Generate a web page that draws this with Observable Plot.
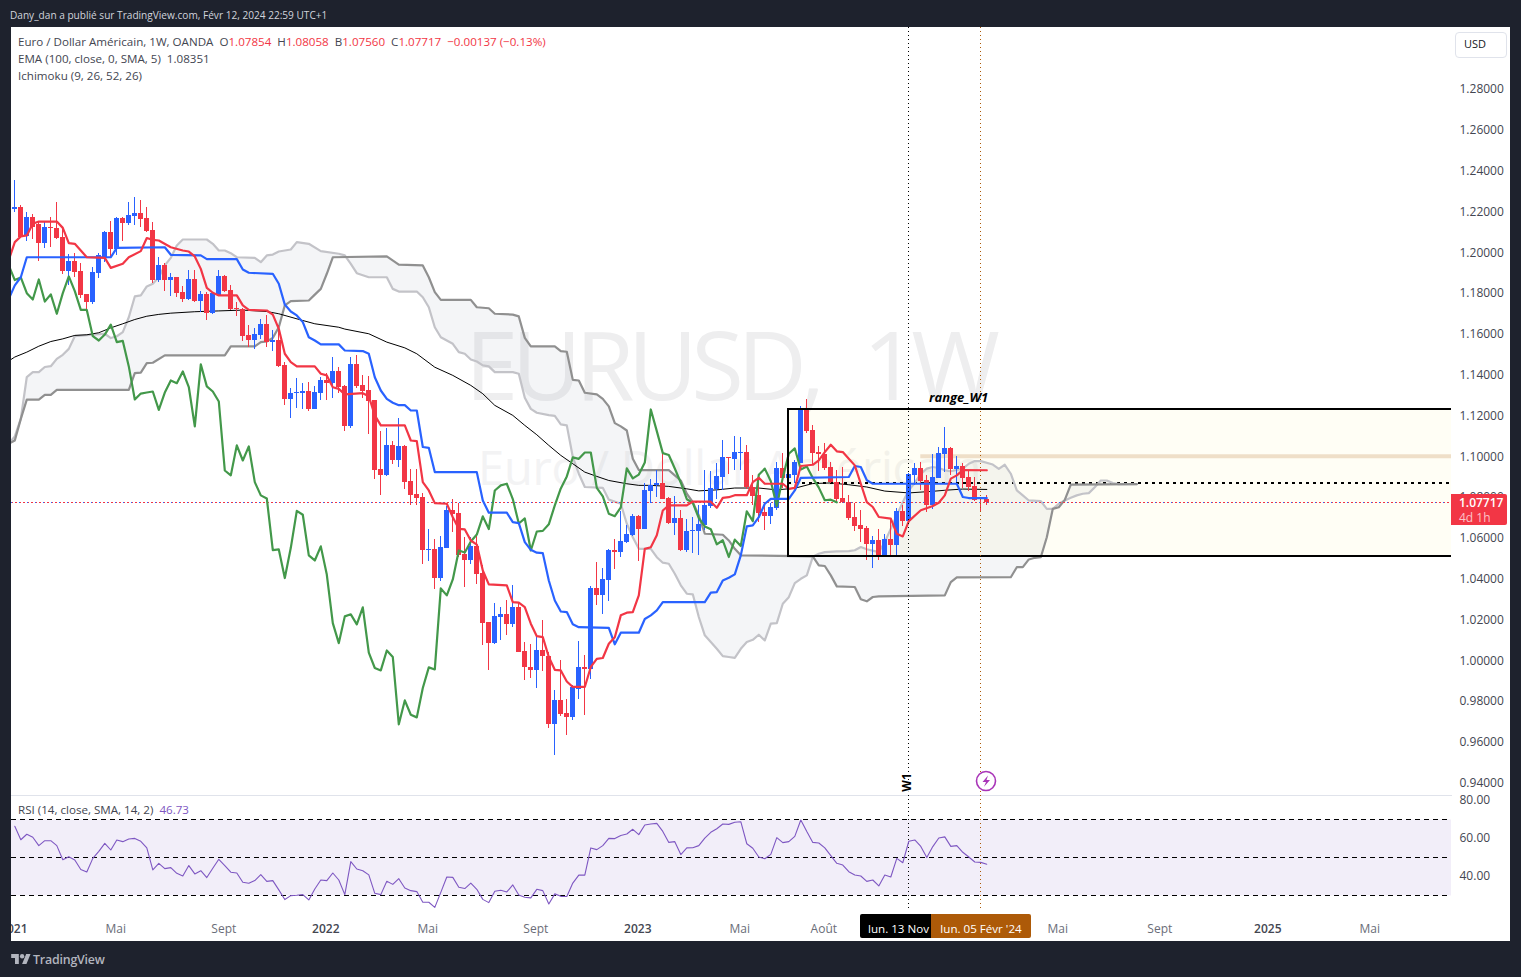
<!DOCTYPE html>
<html lang="fr"><head><meta charset="utf-8">
<script src="https://cdn.jsdelivr.net/npm/d3@7"></script>
<script src="https://cdn.jsdelivr.net/npm/@observablehq/plot@0.6"></script>
<style>
html,body{margin:0;padding:0;background:#1e222d;width:1521px;height:977px;overflow:hidden;font-family:"Open Sans",sans-serif;}
#panel{position:absolute;left:11px;top:27px;width:1499px;height:914px;background:#fff;}
.abs{position:absolute;white-space:nowrap;}
.lg{font-size:11.6px;color:#434651;line-height:17px;}
.lg b{font-weight:400;color:#f23645;}
svg.pl{position:absolute;background:transparent;overflow:hidden;}
</style></head><body>
<div class="abs" style="left:10px;top:8px;font-size:10.1px;color:#d1d4dc;">Dany_dan a publié sur TradingView.com, Févr 12, 2024 22:59 UTC+1</div>
<div id="panel"></div>
<div class="abs" style="left:465px;top:298px;font-size:96px;color:#eeeeef;letter-spacing:-6.6px;word-spacing:26px;font-family:'Open Sans';line-height:130px;">EURUSD, 1W</div>
<div class="abs" style="left:478px;top:435px;font-size:47px;color:#f3f3f4;font-family:'Open Sans';line-height:64px;letter-spacing:-.2px;">Euro / Dollar Américain</div>
<div id="charts"></div>
<div class="abs lg" style="left:18px;top:33px;">Euro / Dollar Américain, 1W, OANDA&nbsp; O<b>1.07854</b>&nbsp; H<b>1.08058</b>&nbsp; B<b>1.07560</b>&nbsp; C<b>1.07717</b>&nbsp; <b>−0.00137 (−0.13%)</b></div>
<div class="abs lg" style="left:18px;top:50px;">EMA (100, close, 0, SMA, 5)&nbsp; 1.08351</div>
<div class="abs lg" style="left:18px;top:67px;">Ichimoku (9, 26, 52, 26)</div>
<div class="abs lg" style="left:18px;top:801px;">RSI (14, close, SMA, 14, 2)&nbsp; <span style="color:#7e57c2">46.73</span></div>
<div class="abs" style="left:1455px;top:32px;width:50px;height:24px;border:1px solid #e0e3eb;border-radius:4px;font-size:11px;line-height:22px;color:#131722;text-indent:8px;">USD</div>
<div class="abs" style="left:1451px;top:494px;width:56px;height:31px;background:#f23645;border-radius:0 2px 2px 0;color:#fff;font-size:12px;line-height:15px;text-indent:8px;padding-top:1px;box-sizing:border-box;"><div style="font-weight:600">1.07717</div><div style="color:#fbc3c8">4d 1h</div></div>
<div class="abs" style="left:860px;top:914px;width:71px;height:24px;background:#000;border-radius:2px 0 0 2px;color:#fff;font-size:11.6px;line-height:29px;text-indent:8px;">lun. 13 Nov</div>
<div class="abs" style="left:931px;top:914px;width:100px;height:24px;background:#ad5a08;border-radius:0 2px 2px 0;color:#fff;font-size:11.6px;line-height:29px;text-align:center;">lun. 05 Févr '24</div>
<svg class="abs" style="left:975px;top:770px;" width="22" height="22" viewBox="0 0 22 22"><circle cx="11" cy="11" r="9.5" fill="#fff" stroke="#a935b8" stroke-width="1.6"/><path d="M13 5.5 7.5 12H11l-2 4.8L15 10h-3.5z" fill="#a935b8"/></svg>
<svg class="abs" style="left:11px;top:953px;" width="20" height="12" viewBox="0 0 36 22"><path d="M14 20H7V9H0V2h14zM28 20h-8L27.5 2h8z" fill="#b2b5be"/><circle cx="20" cy="6" r="4" fill="#b2b5be"/></svg>
<div class="abs" style="left:33px;top:951px;font-size:12.4px;color:#b2b5be;font-weight:600;letter-spacing:-.2px;">TradingView</div>
<script>
// Weekly candles, week 0 = 4 Jan 2021, week 162 = 12 Feb 2024
const open=[1.2205,1.2217,1.2075,1.2168,1.2133,1.2042,1.2119,1.2114,1.2070,1.1903,1.1952,1.1903,1.1791,1.1751,1.1895,1.1970,1.2094,1.2013,1.2163,1.2140,1.2174,1.2187,1.2163,1.2102,1.1859,1.1933,1.1861,1.1874,1.1800,1.1766,1.1864,1.1758,1.1791,1.1696,1.1784,1.1879,1.1810,1.1722,1.1715,1.1588,
1.1565,1.1591,1.1643,1.1557,1.1565,1.1443,1.1276,1.1307,1.1305,1.1315,1.1227,1.1307,1.1368,1.1354,1.1413,1.1338,1.1144,1.1448,1.1345,1.1319,1.1271,1.0933,1.0904,1.1051,1.0977,1.1046,1.0874,1.0811,
1.0794,1.0538,1.0539,1.0401,1.0547,1.0730,1.0716,1.0515,1.0487,1.0556,1.0422,1.0182,1.0079,1.0208,1.0223,1.0174,1.0257,1.0041,.9963,.9948,1.0046,1.0017,.9684,.9801,.9736,.9718,.9855,.9963,.9953,1.0350,1.0316,1.0389,1.0536,1.0526,1.0574,1.0610,1.0703,1.0641,
1.0825,1.0853,1.0863,1.0791,1.0668,1.0693,1.0536,1.0631,1.0631,1.0657,1.0753,1.0833,1.0894,1.0992,1.0982,1.1013,1.1016,1.0843,1.0806,1.0722,1.0704,1.0742,1.0938,1.0889,1.0904,1.0961,1.1227,
1.1123,1.1017,1.1005,1.0942,1.0871,1.0790,1.0770,1.0697,1.0659,1.0644,1.0566,1.0586,1.0504,1.0591,1.0558,1.0728,1.0680,1.0904,1.0938,1.0880,1.0754,1.0891,1.1007,1.1036,1.0933,1.0948,1.0894,1.0849,1.0790,1.07854];
const high=[1.2349,1.2227,1.2194,1.2182,1.2145,1.2145,1.2169,1.2241,1.2120,1.1986,1.1990,1.1941,1.1791,1.1921,1.1990,1.2099,1.2148,1.2168,1.2169,1.2240,1.2264,1.2251,1.2218,1.2143,1.1970,1.1941,1.1892,1.1875,1.1830,1.1908,1.1908,1.1807,1.1802,1.1797,1.1908,1.1885,1.1835,1.1753,1.1720,1.1639,
1.1622,1.1666,1.1688,1.1614,1.1639,1.1459,1.1328,1.1377,1.1353,1.1358,1.1340,1.1384,1.1402,1.1482,1.1433,1.1345,1.1482,1.1492,1.1394,1.1389,1.1271,1.1119,1.1132,1.1070,1.1181,1.1051,1.0933,1.0933,
1.0814,1.0637,1.0588,1.0605,1.0752,1.0784,1.0768,1.0598,1.0601,1.0618,1.0463,1.0185,1.0275,1.0258,1.0291,1.0365,1.0283,1.0084,1.0076,1.0111,1.0193,1.0038,.9850,.9997,.9806,.9875,1.0090,1.0022,1.0360,1.0476,1.0446,1.0541,1.0588,1.0729,1.0659,1.0711,1.0707,1.0863,
1.0884,1.0928,1.1031,1.0797,1.0801,1.0732,1.0686,1.0699,1.0757,1.0928,1.0925,1.0961,1.1075,1.0993,1.1095,1.1090,1.1051,1.0904,1.0892,1.0773,1.0765,1.0967,1.1010,1.0972,1.0977,1.1242,1.1275,
1.1149,1.1046,1.1059,1.0969,1.0929,1.0945,1.0806,1.0765,1.0733,1.0651,1.0602,1.0638,1.0613,1.0692,1.0741,1.0757,1.0912,1.0961,1.0969,1.0904,1.1005,1.1043,1.1138,1.1043,1.0997,1.0961,1.0929,1.0896,1.0793,1.08058];
const low=[1.2194,1.2063,1.2052,1.2058,1.1954,1.2016,1.2022,1.2062,1.1889,1.1835,1.1875,1.1769,1.1704,1.1740,1.1871,1.1949,1.1970,1.1982,1.2050,1.2129,1.2129,1.2117,1.2093,1.1846,1.1851,1.1807,1.1781,1.1774,1.1751,1.1761,1.1753,1.1704,1.1663,1.1693,1.1782,1.1802,1.1712,1.1683,1.1562,1.1529,
1.1521,1.1570,1.1532,1.1513,1.1431,1.1247,1.1183,1.1230,1.1227,1.1217,1.1227,1.1271,1.1271,1.1283,1.1304,1.1119,1.1136,1.1328,1.1279,1.1105,1.0884,1.0806,1.0900,1.0958,1.0945,1.0835,1.0757,1.0757,
1.0467,1.0482,1.0345,1.0384,1.0544,1.0626,1.0500,1.0356,1.0467,1.0369,1.0071,.9948,1.0076,1.0095,1.0120,1.0160,1.0035,.9899,.9907,.9860,.9943,.9662,.9532,.9723,.9630,.9703,.9806,.9728,.9904,1.0267,1.0223,1.0288,1.0443,1.0503,1.0569,1.0606,1.0484,1.0637,
1.0765,1.0797,1.0788,1.0664,1.0610,1.0533,1.0528,1.0523,1.0512,1.0634,1.0744,1.0784,1.0830,1.0908,1.0928,1.0928,1.0833,1.0758,1.0675,1.0634,1.0664,1.0732,1.0838,1.0838,1.0863,1.0961,1.1108,
1.0956,1.0924,1.0929,1.0863,1.0765,1.0765,1.0684,1.0630,1.0577,1.0488,1.0450,1.0488,1.0504,1.0507,1.0509,1.0654,1.0679,1.0852,1.0831,1.0724,1.0738,1.0888,1.0920,1.0904,1.0868,1.0839,1.0826,1.0777,1.0721,1.07560];
const close=[1.2215,1.2071,1.2168,1.2117,1.2042,1.2119,1.2116,1.2066,1.1905,1.1952,1.1900,1.1786,1.1751,1.1898,1.1980,1.2094,1.2011,1.2163,1.2140,1.2178,1.2187,1.2158,1.2101,1.1859,1.1933,1.1861,1.1874,1.1797,1.1766,1.1864,1.1756,1.1791,1.1696,1.1797,1.1879,1.1807,1.1715,1.1715,1.1586,1.1565,
1.1594,1.1643,1.1557,1.1563,1.1438,1.1276,1.1305,1.1310,1.1315,1.1225,1.1310,1.1369,1.1356,1.1413,1.1337,1.1144,1.1448,1.1340,1.1315,1.1266,1.0928,1.0904,1.1051,1.0977,1.1046,1.0871,1.0806,1.0791,
1.0538,1.0541,1.0401,1.0549,1.0730,1.0711,1.0512,1.0487,1.0556,1.0418,1.0180,1.0082,1.0213,1.0223,1.0174,1.0257,1.0035,.9960,.9948,1.0046,1.0014,.9684,.9801,.9731,.9718,.9862,.9963,.9953,1.0350,1.0316,1.0394,1.0536,1.0526,1.0580,1.0614,1.0703,1.0641,1.0830,
1.0855,1.0863,1.0788,1.0668,1.0693,1.0536,1.0629,1.0632,1.0664,1.0757,1.0840,1.0899,1.0992,1.0985,1.1016,1.1016,1.0843,1.0801,1.0716,1.0704,1.0747,1.0938,1.0889,1.0908,1.0967,1.1227,1.1121,
1.1013,1.1004,1.0938,1.0868,1.0787,1.0769,1.0695,1.0654,1.0640,1.0566,1.0586,1.0504,1.0589,1.0558,1.0728,1.0680,1.0907,1.0937,1.0875,1.0754,1.0893,1.1010,1.1036,1.0933,1.0948,1.0891,1.0844,1.0782,1.0785,1.07717];

const kijun=[[-1,1.1770],[0,1.1835],[1,1.1875],[2,1.1973],[16,1.1973],[17,1.2019],[25,1.2022],[26,1.1985],[31,1.1982],[32,1.1964],[37,1.1964],[38,1.1913],[39,1.1897],[43,1.1892],[44,1.1843],[45,1.1741],[46,1.1707],[47,1.1688],[48,1.1655],[49,1.1581],[50,1.1565],[51,1.1546],[54,1.1546],[55,1.1516],[58,1.1513],[59,1.1500],[60,1.1385],[61,1.1320],[62,1.1279],[63,1.1260],[64,1.1248],[65,1.1248],[66,1.1222],[67,1.1222],[68,1.1043],[69,1.1039],[70,1.0920],[77,1.0920],[78,1.0781],[79,1.0721],[82,1.0721],[83,1.0675],[84,1.0670],[85,1.0577],[86,1.0539],[87,1.0525],[88,1.0523],[89,1.0389],[90,1.0291],[91,1.0237],[92,1.0234],[93,1.0174],[94,1.0160],[99,1.0157],[100,1.0076],[101,1.0133],[104,1.0133],[105,1.0200],[106,1.0218],[107,1.0242],[108,1.0283],[115,1.0283],[116,1.0329],[117,1.0332],[118,1.0389],[119,1.0402],[120,1.0419],[121,1.0512],[122,1.0654],[123,1.0659],[124,1.0699],[125,1.0765],[126,1.0789],[129,1.0789],[130,1.0830],[131,1.0892],[139,1.0896],[140,1.0950],[141,1.0945],[142,1.0880],[143,1.0863],[157,1.0863],[158,1.0798],[159,1.0793],[162,1.0793]];
const tenkan=[[-1,1.1960],[0,1.2047],[1,1.2075],[2,1.2080],[3,1.2137],[4,1.2148],[7,1.2148],[8,1.2117],[9,1.2042],[10,1.2039],[11,1.2006],[12,1.1973],[15,1.1970],[16,1.1921],[18,1.1941],[19,1.1973],[21,1.2003],[22,1.2067],[23,1.2058],[24,1.2055],[26,1.2022],[28,1.2006],[29,1.2001],[30,1.1977],[31,1.1916],[32,1.1823],[33,1.1799],[34,1.1786],[37,1.1786],[38,1.1737],[39,1.1715],[42,1.1712],[43,1.1692],[44,1.1622],[45,1.1500],[46,1.1459],[47,1.1438],[50,1.1438],[51,1.1402],[52,1.1394],[53,1.1336],[54,1.1328],[55,1.1301],[58,1.1307],[59,1.1292],[60,1.1198],[61,1.1149],[65,1.1149],[66,1.1075],[67,1.1072],[68,1.0871],[69,1.0830],[70,1.0768],[72,1.0765],[73,1.0699],[74,1.0642],[75,1.0639],[76,1.0585],[77,1.0565],[78,1.0438],[79,1.0370],[82,1.0365],[83,1.0283],[84,1.0280],[85,1.0258],[86,1.0177],[87,1.0116],[88,1.0111],[89,1.0014],[90,.9951],[91,.9948],[92,.9894],[93,.9867],[95,.9867],[96,.9965],[97,1.0005],[98,1.0009],[99,1.0079],[100,1.0111],[101,1.0218],[102,1.0231],[103,1.0234],[104,1.0316],[105,1.0544],[106,1.0552],[107,1.0610],[108,1.0732],[109,1.0757],[112,1.0757],[113,1.0776],[116,1.0775],[117,1.0745],[118,1.0794],[119,1.0797],[120,1.0807],[122,1.0807],[123,1.0871],[124,1.0892],[125,1.0863],[128,1.0863],[129,1.0838],[130,1.0843],[131,1.0950],[133,1.0956],[134,1.0978],[135,1.1018],[136,1.1054],[137,1.1022],[138,1.1018],[139,1.0986],[140,1.0953],[141,1.0863],[142,1.0773],[143,1.0749],[144,1.0700],[146,1.0692],[147,1.0618],[148,1.0605],[149,1.0680],[151,1.0733],[153,1.0754],[154,1.0770],[155,1.0806],[156,1.0888],[157,1.0904],[158,1.0930],[162,1.0929]];
const spanLight=[[-1,1.1060],[0,1.1095],[1,1.1181],[2,1.1386],[3,1.1410],[4,1.1410],[5,1.1435],[6,1.1439],[7,1.1475],[8,1.1495],[9,1.1524],[10,1.1586],[15,1.1598],[16,1.1577],[17,1.1586],[18,1.1606],[19,1.1679],[20,1.1781],[21,1.1786],[22,1.1830],[23,1.1843],[24,1.1875],[25,1.1933],[26,1.1970],[27,1.2031],[28,1.2060],[32,1.2060],[33,1.2039],[34,1.2006],[35,1.2006],[36,1.1993],[37,1.1973],[40,1.1970],[41,1.1949],[42,1.1982],[43,1.1986],[44,1.2001],[46,1.2011],[47,1.2047],[49,1.2039],[51,1.2003],[54,1.1990],[55,1.1982],[56,1.1941],[57,1.1895],[59,1.1875],[62,1.1875],[63,1.1818],[64,1.1805],[67,1.1805],[68,1.1777],[69,1.1728],[70,1.1630],[71,1.1581],[73,1.1549],[74,1.1508],[75,1.1500],[76,1.1472],[77,1.1462],[78,1.1443],[79,1.1438],[80,1.1410],[83,1.1410],[84,1.1402],[85,1.1284],[86,1.1230],[87,1.1211],[89,1.1199],[90,1.1196],[91,1.1154],[92,1.1149],[93,1.0994],[94,1.0912],[95,1.0847],[98,1.0843],[99,1.0785],[101,1.0765],[102,1.0667],[103,1.0601],[104,1.0544],[106,1.0544],[107,1.0503],[108,1.0476],[109,1.0471],[110,1.0422],[111,1.0365],[112,1.0324],[113,1.0321],[114,1.0210],[115,1.0120],[116,1.0087],[117,1.0054],[118,1.0018],[119,1.0014],[120,1.0010],[121,1.0054],[122,1.0087],[123,1.0098],[124,1.0123],[125,1.0095],[126,1.0177],[127,1.0180],[128,1.0275],[129,1.0307],[130,1.0376],[131,1.0397],[132,1.0414],[133,1.0505],[134,1.0520],[135,1.0528],[137,1.0532],[139,1.0533],[140,1.0537],[141,1.0553],[142,1.0542],[144,1.0528],[145,1.0577],[146,1.0643],[147,1.0708],[148,1.0773],[149,1.0831],[150,1.0868],[151,1.0912],[152,1.0937],[153,1.0945],[154,1.0940],[155,1.0929],[156,1.0924],[158,1.0937],[159,1.0961],[160,1.0974],[161,1.0974],[163,1.0957],[164,1.0936],[165,1.0956],[166,1.0912],[167,1.0830],[168,1.0806],[169,1.0781],[171,1.0778],[172,1.0740],[173,1.0740],[174,1.0765],[175,1.0781],[176,1.0794],[177,1.0806],[178,1.0814],[179,1.0817],[180,1.0846],[181,1.0879],[182,1.0879],[183,1.0866],[184,1.0861],[187,1.0861]];
const spanDark=[[-1,1.1060],[0,1.1075],[1,1.1181],[2,1.1275],[4,1.1275],[5,1.1299],[6,1.1299],[7,1.1323],[19,1.1323],[20,1.1405],[21,1.1408],[22,1.1454],[23,1.1456],[25,1.1492],[35,1.1492],[36,1.1536],[40,1.1536],[41,1.1557],[42,1.1560],[43,1.1578],[44,1.1630],[45,1.1737],[46,1.1758],[49,1.1761],[50,1.1790],[51,1.1818],[52,1.1892],[53,1.1973],[62,1.1977],[64,1.1937],[68,1.1933],[69,1.1875],[70,1.1802],[71,1.1764],[76,1.1764],[77,1.1728],[79,1.1723],[80,1.1696],[83,1.1692],[84,1.1683],[85,1.1578],[86,1.1536],[90,1.1536],[91,1.1513],[92,1.1510],[93,1.1372],[94,1.1369],[95,1.1309],[97,1.1301],[98,1.1279],[99,1.1242],[100,1.1160],[101,1.1144],[102,1.1124],[103,1.0985],[104,1.0930],[109,1.0930],[110,1.0904],[111,1.0879],[112,1.0814],[113,1.0773],[114,1.0708],[115,1.0618],[118,1.0613],[119,1.0585],[120,1.0544],[121,1.0512],[133,1.0507],[134,1.0463],[135,1.0460],[136,1.0414],[137,1.0360],[140,1.0357],[141,1.0297],[142,1.0287],[143,1.0308],[144,1.0311],[155,1.0316],[156,1.0381],[157,1.0404],[166,1.0405],[167,1.0454],[168,1.0454],[169,1.0492],[170,1.0500],[171,1.0503],[172,1.0601],[173,1.0740],[174,1.0748],[175,1.0784],[176,1.0859],[187,1.0861]];
const ema=[[-1,1.1465],[0,1.1484],[2,1.1508],[4,1.1537],[6,1.1560],[8,1.1573],[10,1.1590],[12,1.1593],[14,1.1603],[16,1.1627],[18,1.1647],[20,1.1668],[22,1.1684],[24,1.1693],[26,1.1699],[30,1.1706],[34,1.1710],[38,1.1714],[42,1.1707],[44,1.1696],[48,1.1663],[50,1.1647],[54,1.1630],[55,1.1621],[59,1.1598],[62,1.1557],[65,1.1529],[67,1.1500],[70,1.1434],[73,1.1394],[76,1.1345],[78,1.1304],[80,1.1247],[83,1.1198],[85,1.1149],[87,1.1103],[89,1.1051],[91,1.1002],[93,1.0961],[95,1.0920],[97,1.0899],[99,1.0879],[102,1.0863],[104,1.0855],[106,1.0855],[109,1.0850],[112,1.0838],[114,1.0828],[117,1.0833],[120,1.0842],[124,1.0842],[127,1.0833],[130,1.0841],[133,1.0864],[136,1.0867],[139,1.0858],[142,1.0847],[145,1.0827],[149,1.0818],[153,1.0826],[155,1.0831],[158,1.0837],[162,1.0835]];
const rsi=[66.7,59.6,62.5,60.9,56.5,59.1,59.1,56.5,49.1,50.7,48.9,43.9,42.6,49.8,53.5,57.7,54.2,59.5,58.6,60.0,60.3,58.8,55.3,43.7,47.2,44.4,44.9,41.9,40.5,46.0,41.6,43.3,39.7,44.6,49.3,46.0,42.5,42.1,37.2,36.7,38.1,41.2,37.7,38.1,33.2,28.1,30.2,30.4,30.7,27.9,33.7,38.4,38.1,42.1,38.4,30.7,48.1,44.2,43.3,41.1,31.4,30.7,37.7,36.1,39.1,34.2,32.8,32.3,26.7,26.7,24.0,31.9,40.0,39.8,34.6,33.9,36.8,33.5,28.2,26.5,32.5,33.0,32.1,35.8,
30.5,29.3,29.0,33.5,32.8,25.8,31.1,29.8,29.7,36.8,41.0,41.0,55.3,54.4,56.5,60.3,60.2,61.8,62.6,65.1,62.3,67.4,67.9,68.2,64.0,58.2,58.6,51.8,55.3,55.4,56.5,60.5,63.5,65.4,67.9,67.7,68.8,69.1,57.5,55.1,50.5,49.6,51.9,60.7,58.1,58.6,61.4,70.0,63.9,58.2,57.9,55.3,51.2,47.2,46.3,42.8,41.0,40.5,37.7,38.4,35.3,41.0,40.0,49.8,47.5,58.8,59.5,56.1,50.2,56.0,60.5,61.1,56.1,56.5,53.0,50.5,47.9,47.7,46.73];

const priceTicks=[1.28,1.26,1.24,1.22,1.20,1.18,1.16,1.14,1.12,1.10,1.08,1.06,1.04,1.02,1.00,.98,.96,.94];
const rsiTicks=[80,60,40];
const rsiLevels=[70,50,30];
const yearWeeks=[0,52,104,209], yearLabels=["2021","2022","2023","2025"];
const monthWeeks=[17,35,69,87,121,135,174,191,226], monthLabels=["Mai","Sept","Mai","Sept","Mai","Août","Mai","Sept","Mai"];
const lastClose=1.07717, rangeTop=1.1227, rangeBottom=1.0507, rangeMid=1.0867, tanLevel=1.0998;
const rangeStart=129, markW1=149, markFeb=161, tanStart=151;

const RED="#f23645",BLUE="#2962ff",FONT="'Open Sans',sans-serif";
const xDomain=[-0.55,239.45];
const crisp={shapeRendering:"crispEdges"};
const pts=a=>a.map(([k,p])=>({k,p}));
const weeks=d3.range(open.length);
const candles=weeks.map(k=>({k,o:open[k],h:high[k],l:low[k],c:close[k],col:close[k]>=open[k]?BLUE:RED}));
const chikou=d3.range(-1,138).map(k=>({k,p:close[k+25]}));
const cloud=[...pts(spanLight),...pts(spanDark).reverse()];
const L=(d,stroke,w,extra={})=>Plot.line(pts(d),{x:"k",y:"p",stroke,strokeWidth:w,clip:true,curve:"linear",...extra});

const main=Plot.plot({
  width:1499,height:767,marginLeft:0,marginRight:59,marginTop:0,marginBottom:0,
  style:{background:"transparent",overflow:"hidden",fontFamily:FONT,fontSize:"12px"},
  x:{domain:xDomain,axis:null},
  y:{domain:[.9340,1.3099],axis:null},
  marks:[
    Plot.line(cloud,{x:"k",y:"p",fill:"#787b9e",fillOpacity:.08,stroke:"none",clip:true}),
    Plot.rect([{}],{x1:()=>rangeStart,x2:()=>300,y1:()=>rangeBottom,y2:()=>rangeTop,fill:"rgba(255,235,59,.05)",clip:true}),
    Plot.ruleY([tanLevel],{x1:tanStart,x2:300,stroke:"#efdfc8",strokeWidth:4,clip:true}),
    Plot.ruleY([rangeMid],{x1:rangeStart,x2:300,stroke:"#000",strokeWidth:2,strokeDasharray:"3 4",clip:true,...crisp}),
    L(spanLight,"#c3c3c8",2.2),
    L(spanDark,"#909090",2.2),
    L(ema,"#000",1),
    Plot.ruleY([lastClose],{stroke:RED,strokeWidth:1,strokeDasharray:"2 2",clip:true,...crisp}),
    Plot.ruleY([lastClose],{stroke:BLUE,strokeWidth:1,strokeDasharray:"1 7",clip:true,...crisp}),
    Plot.ruleX(candles,{x:"k",y1:"l",y2:"h",stroke:"col",strokeWidth:1,clip:true,...crisp}),
    Plot.ruleX(candles,{x:"k",y1:"o",y2:"c",stroke:"col",strokeWidth:5,clip:true,...crisp}),
    Plot.line(chikou,{x:"k",y:"p",stroke:"#43984a",strokeWidth:2.2,clip:true}),
    L(kijun,BLUE,2.2),
    L(tenkan,RED,2.2),
    Plot.rect([{}],{x1:()=>rangeStart,x2:()=>300,y1:()=>rangeBottom,y2:()=>rangeTop,fill:"none",stroke:"#000",strokeWidth:2,clip:true,...crisp}),
    Plot.ruleX([markW1],{stroke:"#000",strokeWidth:1,strokeDasharray:"1 3",clip:true,...crisp}),
    Plot.ruleX([markFeb],{stroke:"#ad5a08",strokeWidth:1,strokeDasharray:"1 3",clip:true,...crisp}),
    Plot.text(["range_W1"],{x:()=>157.3,y:()=>1.1286,text:d=>d,fontSize:13,fontWeight:700,fontStyle:"italic",fill:"#000",letterSpacing:"1.1px"}),
    Plot.text(["W1"],{x:()=>markW1,y:()=>.9399,text:d=>d,rotate:-90,dx:-1.5,fontSize:12,fontWeight:700,fill:"#000",stroke:"#fff",strokeWidth:3,paintOrder:"stroke"}),
    Plot.axisY({anchor:"right",ticks:priceTicks,tickSize:0,tickPadding:8,dy:1,tickFormat:d3.format(".5f"),label:null,fill:"#434651"})
  ]
});
main.classList.add("pl");
main.setAttribute("style",main.getAttribute("style")+";position:absolute;left:11px;top:27px;");

const rsiData=rsi.map((v,k)=>({k,v}));
const lower=Plot.plot({
  width:1499,height:156,marginLeft:0,marginRight:59,marginTop:10,marginBottom:33,
  style:{background:"transparent",overflow:"hidden",fontFamily:FONT,fontSize:"12px"},
  x:{domain:xDomain,axis:null},
  y:{domain:[23.4,82.9],axis:null},
  marks:[
    Plot.frame({anchor:"top",stroke:"#e0e3eb"}),
    Plot.rect([{}],{x1:()=>-5,x2:()=>300,y1:()=>30,y2:()=>70,fill:"#7e57c2",fillOpacity:.1,clip:true}),
    Plot.ruleY(rsiLevels,{stroke:"#000",strokeWidth:1,strokeDasharray:"5 4",clip:true,...crisp}),
    Plot.ruleX([markW1],{stroke:"#000",strokeWidth:1,strokeDasharray:"1 3",clip:true,...crisp}),
    Plot.ruleX([markFeb],{stroke:"#ad5a08",strokeWidth:1,strokeDasharray:"1 3",clip:true,...crisp}),
    Plot.line(rsiData,{x:"k",y:"v",stroke:"#7e57c2",strokeWidth:1.1,clip:true}),
    Plot.axisY({anchor:"right",ticks:rsiTicks,tickSize:0,tickPadding:8,dy:-.5,tickFormat:d3.format(".2f"),label:null,fill:"#434651"}),
    Plot.axisX({ticks:monthWeeks,tickSize:0,tickPadding:16,dx:-1,label:null,tickFormat:k=>monthLabels[monthWeeks.indexOf(k)],fill:"#6a6d78"}),
    Plot.axisX({ticks:yearWeeks,tickSize:0,tickPadding:16,dx:-1,label:null,tickFormat:k=>yearLabels[yearWeeks.indexOf(k)],fill:"#434651",fontWeight:600})
  ]
});
lower.classList.add("pl");
lower.setAttribute("style",lower.getAttribute("style")+";position:absolute;left:11px;top:785px;");
document.getElementById("charts").append(main,lower);
</script>
</body></html>
